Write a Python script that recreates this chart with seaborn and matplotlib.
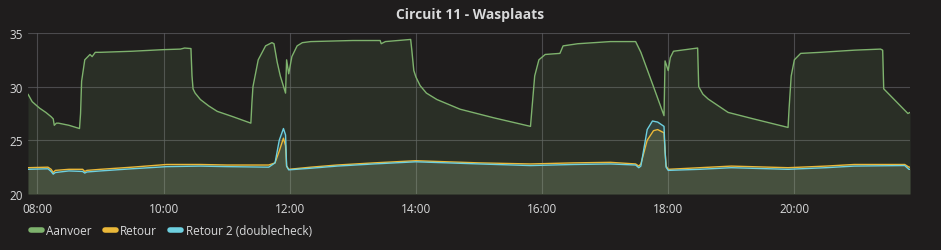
import matplotlib
matplotlib.use("Agg")
import matplotlib.pyplot as plt
import matplotlib.dates as mdates
from matplotlib.lines import Line2D
import seaborn as sns
import pandas as pd

# ---- data ----
series_names = ["Aanvoer", "Retour", "Retour 2 (doublecheck)"]
colors = ["#7EB26D", "#EAB839", "#6ED0E0"]
title = "Circuit 11 - Wasplaats"

aanvoer_t = ["07:51", "07:55", "08:02", "08:08", "08:13", "08:15", "08:16", "08:18", "08:20", "08:30",
             "08:40", "08:41", "08:42", "08:45", "08:50", "08:52", "08:55", "09:00", "09:30", "10:00",
             "10:16", "10:20", "10:26", "10:27", "10:28", "10:30", "10:35", "10:43", "10:51", "11:06",
             "11:23", "11:24", "11:25", "11:30", "11:37", "11:43", "11:45", "11:48", "11:51", "11:56",
             "11:57", "11:59", "12:02", "12:07", "12:12", "12:20", "13:00", "13:26", "13:27", "13:31",
             "13:55", "13:56", "13:58", "14:00", "14:04", "14:10", "14:20", "14:42", "15:14", "15:49",
             "15:50", "15:53", "15:57", "16:03", "16:17", "16:20", "16:34", "17:05", "17:29", "17:34",
             "17:40", "17:46", "17:56", "17:57", "18:00", "18:02", "18:05", "18:28", "18:29", "18:33",
             "18:38", "18:57", "19:21", "19:54", "19:55", "19:57", "20:00", "20:06", "20:25", "20:57",
             "21:22", "21:24", "21:25", "21:32", "21:41", "21:48", "21:50"]
aanvoer_v = [29.3, 28.6, 28.0, 27.6, 27.2, 27.0, 26.4, 26.6, 26.6, 26.4,
             26.1, 27.5, 30.5, 32.5, 33.0, 32.8, 33.2, 33.2, 33.3, 33.45,
             33.5, 33.6, 33.55, 31.0, 29.8, 29.4, 28.8, 28.2, 27.7, 27.2,
             26.6, 28.5, 30.0, 32.5, 33.8, 34.1, 34.0, 32.3, 31.0, 29.4,
             32.5, 31.2, 32.8, 33.8, 34.1, 34.2, 34.3, 34.3, 34.0, 34.2,
             34.4, 33.5, 31.5, 30.9, 30.1, 29.4, 28.8, 27.9, 27.1, 26.3,
             27.5, 31.0, 32.5, 33.0, 33.1, 33.8, 34.0, 34.2, 34.2, 33.2,
             31.6, 30.0, 27.3, 32.4, 31.5, 32.7, 33.3, 33.6, 30.0, 29.3,
             28.85, 27.6, 27.0, 26.2, 28.0, 31.0, 32.5, 33.1, 33.2, 33.4,
             33.5, 33.4, 29.8, 29.1, 28.2, 27.5, 27.6]

retour_t = ["07:51", "08:10", "08:13", "08:15", "08:17", "08:30", "08:43", "08:45", "08:47", "09:00",
            "09:30", "10:03", "10:35", "11:00", "11:40", "11:46", "11:50", "11:54", "11:56", "11:57",
            "11:59", "12:20", "12:45", "13:20", "14:00", "14:30", "15:00", "15:49", "16:30", "17:05",
            "17:29", "17:32", "17:34", "17:40", "17:46", "17:50", "17:56", "17:57", "17:58", "18:00",
            "18:30", "19:00", "19:54", "20:30", "20:57", "21:45", "21:49", "21:50"]
retour_v = [22.45, 22.5, 22.3, 22.0, 22.2, 22.3, 22.3, 22.1, 22.2, 22.3,
            22.5, 22.75, 22.75, 22.7, 22.7, 22.9, 24.0, 25.2, 24.5, 22.6,
            22.3, 22.5, 22.7, 22.9, 23.1, 23.0, 22.9, 22.8, 22.9, 22.95,
            22.8, 22.6, 22.8, 25.0, 25.9, 26.0, 25.7, 24.0, 22.6, 22.3,
            22.45, 22.6, 22.45, 22.6, 22.75, 22.75, 22.5, 22.5]

retour2_t = ["07:51", "08:10", "08:13", "08:15", "08:17", "08:30", "08:43", "08:45", "08:47", "09:00",
             "09:30", "10:03", "10:35", "11:00", "11:40", "11:46", "11:50", "11:54", "11:56", "11:57",
             "11:59", "12:20", "12:45", "13:20", "14:00", "14:30", "15:00", "15:49", "16:30", "17:05",
             "17:29", "17:32", "17:34", "17:40", "17:45", "17:50", "17:56", "17:57", "17:58", "18:00",
             "18:30", "19:00", "19:54", "20:30", "20:57", "21:45", "21:49", "21:50"]
retour2_v = [22.3, 22.35, 22.1, 21.85, 22.0, 22.15, 22.1, 21.95, 22.05, 22.15,
             22.35, 22.55, 22.6, 22.55, 22.5, 22.9, 25.0, 26.1, 25.5, 22.6,
             22.25, 22.4, 22.6, 22.8, 23.0, 22.9, 22.8, 22.65, 22.75, 22.8,
             22.7, 22.45, 22.6, 26.0, 26.8, 26.7, 26.3, 24.0, 22.5, 22.2,
             22.3, 22.45, 22.3, 22.45, 22.6, 22.65, 22.3, 22.3]

y_ticks = [20, 25, 30, 35]

# ---- build frame ----
day = "2017-01-01 "
frames = []
for name, ts, vs in [(series_names[0], aanvoer_t, aanvoer_v),
                     (series_names[1], retour_t, retour_v),
                     (series_names[2], retour2_t, retour2_v)]:
    frames.append(pd.DataFrame({"time": pd.to_datetime([day + t for t in ts]),
                                "value": vs, "series": name}))
df = pd.concat(frames, ignore_index=True)

# ---- styling ----
bg = "#1f1d1d"
txt = "#d8d9da"
sns.set_theme(style="dark")
plt.rcParams["font.family"] = ["Open Sans", "DejaVu Sans"]

W, H = 941, 251
fig = plt.figure(figsize=(W / 100, H / 100), dpi=100, facecolor=bg)
ax = fig.add_axes([28 / W, 1 - 195 / H, (910 - 28) / W, (195 - 34) / H])
ax.set_facecolor(bg)

palette = dict(zip(series_names, colors))
sns.lineplot(data=df, x="time", y="value", hue="series", palette=palette,
             hue_order=series_names, linewidth=1.0, ax=ax, legend=False,
             estimator=None, sort=True)

for name in series_names:
    sub = df[df["series"] == name]
    ax.fill_between(sub["time"], 20, sub["value"], color=palette[name],
                    alpha=0.12, linewidth=0, zorder=1)

ax.set_ylim(20, 35)
ax.set_xlim(df["time"].min(), df["time"].max())
ax.set_yticks(y_ticks)
ax.xaxis.set_major_locator(mdates.HourLocator(byhour=range(0, 24, 2)))
ax.xaxis.set_major_formatter(mdates.DateFormatter("%H:%M"))
ax.grid(True, color="#5e5e62", linewidth=0.8, alpha=0.7)
ax.set_axisbelow(True)
for s in ax.spines.values():
    s.set_visible(False)
ax.tick_params(axis="both", colors=txt, labelsize=8.5, length=0, pad=4)
ax.tick_params(axis="x", pad=6)
ax.set_xlabel("")
ax.set_ylabel("")

fig.text(0.5, 1 - 15 / H, title, ha="center", va="center", color=txt,
         fontsize=10, fontweight="bold")

handles = [Line2D([0], [0], color=c, linewidth=4) for c in colors]
fig.legend(handles, series_names, loc="center left",
           bbox_to_anchor=(31 / W, 1 - 232 / H), ncol=3, frameon=False,
           handlelength=0.9, handletextpad=0.4, columnspacing=1.1,
           fontsize=8.5, labelcolor=txt, borderaxespad=0, borderpad=0)

fig.savefig("out.png", dpi=100, facecolor=bg)
